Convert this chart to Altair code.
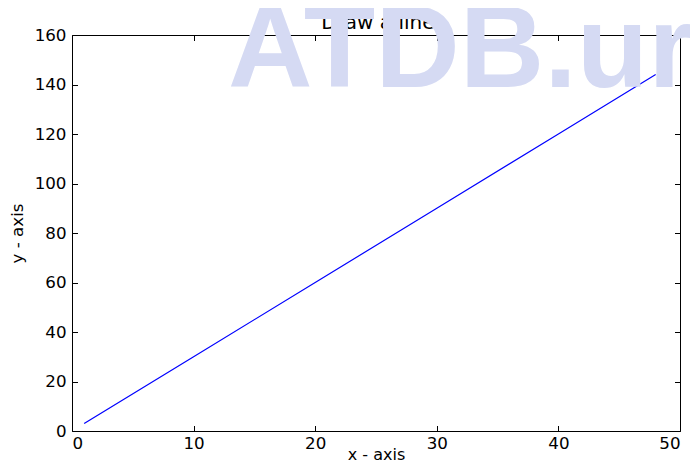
import altair as alt
import pandas as pd

# ---- data ----
x_vals = [1, 10, 20, 30, 40, 48]
y_vals = [3, 30, 60, 90, 120, 144]
x_ticks = [0, 10, 20, 30, 40, 50]
y_ticks = [0, 20, 40, 60, 80, 100, 120, 140, 160]
title_text = ["Draw a line."]
x_title = "x - axis"
y_title = "y - axis"
watermark_text = ["ATDB.ur"]

W, H = 608, 396
FONT = "DejaVu Sans"

df = pd.DataFrame({"x": x_vals, "y": y_vals})
xs = alt.Scale(domain=[0, 50], nice=False, zero=False)
ys = alt.Scale(domain=[0, 160], nice=False, zero=False)


def tick_axis(orient, offset, vals):
    return alt.Axis(orient=orient, offset=offset, values=vals, ticks=True,
                    tickSize=5.5, tickWidth=1, tickColor="black", labels=False,
                    domain=False, grid=False, title="")


line = alt.Chart(df).mark_line(color="#0000ff", strokeWidth=1.2).encode(
    x=alt.X("x:Q", scale=xs,
            axis=alt.Axis(orient="bottom", values=x_ticks, ticks=False, tickSize=0,
                          domain=False, grid=False, labelPadding=4, title=x_title,
                          titleBaseline="alphabetic", titleY=28, titleFontSize=16,
                          format="d")),
    y=alt.Y("y:Q", scale=ys,
            axis=alt.Axis(orient="left", values=y_ticks, ticks=False, tickSize=0,
                          domain=False, grid=False, labelPadding=6, title=y_title,
                          titlePadding=8, format="d")),
)

inv1 = alt.Chart(df).mark_line(opacity=0).encode(
    x=alt.X("x:Q", scale=xs, axis=tick_axis("top", -H, x_ticks)),
    y=alt.Y("y:Q", scale=ys, axis=tick_axis("right", -W, y_ticks)),
)
inv2 = alt.Chart(df).mark_line(opacity=0).encode(
    x=alt.X("x:Q", scale=xs, axis=tick_axis("bottom", -H, x_ticks)),
    y=alt.Y("y:Q", scale=ys, axis=tick_axis("left", -W, y_ticks)),
)

title_layer = alt.Chart(pd.DataFrame({"t": title_text})).mark_text(
    font=FONT, fontSize=20, align="center", baseline="alphabetic", color="black"
).encode(text="t:N", x=alt.value(309), y=alt.value(-6))

wm = alt.Chart(pd.DataFrame({"t": watermark_text})).mark_text(
    font="Liberation Sans", fontWeight="bold", fontSize=117, color="#d5daf3",
    align="left", baseline="alphabetic"
).encode(text="t:N", x=alt.value(156), y=alt.value(52))

chart = alt.layer(line, inv1, inv2, title_layer, wm).resolve_scale(
    x="independent", y="independent"
).properties(
    width=W, height=H,
    autosize=alt.AutoSizeParams(type="none"),
    padding={"left": 64, "top": 27, "right": 10, "bottom": 34},
).configure_view(stroke="black", strokeWidth=1).configure_axis(
    labelFont=FONT, labelFontSize=16.7, titleFont=FONT, titleFontSize=16.7,
    titleFontWeight="normal", labelColor="black", titleColor="black",
    tickColor="black"
)

chart.save("out.html", embed_options={"renderer": "svg", "actions": False})
